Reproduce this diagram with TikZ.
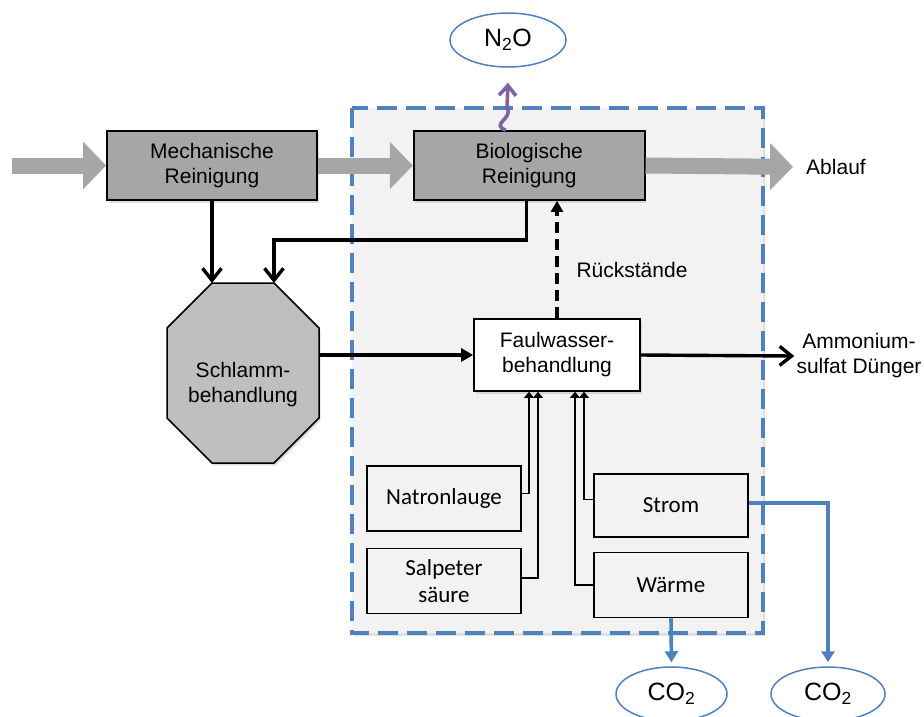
\documentclass[tikz,border=0pt]{standalone}
\usepackage{fontspec}
\setmainfont{Liberation Sans}
\newfontfamily\calibfont{Carlito}
\usepackage{tikz}
\usetikzlibrary{shapes.geometric,arrows.meta,positioning,calc,shadows}
\usepackage{xcolor}
\definecolor{boxgray}{RGB}{166,166,166}
\definecolor{octgray}{RGB}{191,191,191}
\definecolor{flowgray}{RGB}{166,166,166}
\definecolor{bglight}{RGB}{242,242,242}
\definecolor{ofblue}{RGB}{79,129,189}
\definecolor{ofpurple}{RGB}{128,100,162}
\newcommand{\boxfont}{\fontsize{21}{25}\selectfont}
\newcommand{\inputfont}{\calibfont\fontsize{23}{28}\selectfont}
\newcommand{\gasfont}{\fontsize{25}{28}\selectfont}

\begin{document}
\begin{tikzpicture}[x=1pt, y=-1pt,
    shade/.style={drop shadow={shadow xshift=1.5pt, shadow yshift=-2.5pt, opacity=0.25}},
    procstep/.style={rectangle, draw=black, line width=1.7pt, fill=boxgray,
        minimum width=210pt, minimum height=69pt, align=center,
        font=\boxfont, inner sep=2pt, shade},
    faulstep/.style={procstep, fill=white, minimum width=166pt, minimum height=72pt},
    inputstep/.style={rectangle, draw=black, line width=1.5pt, fill=bglight,
        minimum width=154pt, minimum height=65pt, align=center,
        font=\inputfont, inner sep=2pt},
    gas/.style={ellipse, draw=ofblue, line width=1.5pt, fill=white,
        minimum width=116pt, minimum height=54pt, inner sep=0pt, font=\gasfont},
    lbl/.style={font=\boxfont, align=center, inner sep=2pt},
    flowarr/.style={-{Triangle[length=23pt,width=46pt]}, line width=16pt, flowgray},
    blkarr/.style={-{Straight Barb[length=12pt,width=19pt]}, line width=3.4pt, black},
    blkfill/.style={-{Triangle[length=12pt,width=13pt]}, line width=3.2pt, black},
    dasharr/.style={-{Triangle[length=11pt,width=12pt]}, line width=3.4pt, black,
        dash pattern=on 11pt off 6pt},
    thinarr/.style={-{Triangle[length=6pt,width=10pt]}, line width=1.3pt, black},
    bluearr/.style={-{Triangle[length=11pt,width=13pt]}, line width=3.6pt, ofblue},
    wavyarr/.style={-{Straight Barb[length=10pt,width=17pt]}, line width=3.6pt, ofpurple}
]
    \clip (0,0) rectangle (924,716);

    % system boundary
    \draw[ofblue, fill=bglight, line width=3.4pt, dash pattern=on 20pt off 9pt,
        shade] (352,108) rectangle (763,633);

    % main line
    \node[procstep] (mech) at (212,165.5) {Mechanische\\Reinigung};
    \node[procstep, minimum width=231pt, right=95pt of mech] (bio) {Biologische\\Reinigung};
    \node[lbl] (ablauf) at (836,167) {Ablauf};
    \coordinate (inflow) at (12,165.5);

    % sludge treatment
    \coordinate (octc) at (243,373);
    \draw[fill=octgray, draw=black, line width=1.5pt, shade]
        (octc) ++(-31,-90) coordinate (octtl) -- ++(62,0) coordinate (octtr)
        -- ++(45,45) coordinate (octre) -- ++(0,90) -- ++(-45,45) -- ++(-62,0)
        -- ++(-45,-45) -- ++(0,-90) -- cycle;
    \node[lbl] (schlamm) at ([yshift=-12pt]octc) {Schlamm-\\behandlung};

    % reject water treatment
    \node[faulstep] (faul) at (557,355) {Faulwasser-\\behandlung};
    \node[lbl] (rueck) at (632,270) {Rückstände};
    \node[lbl] (ammon) at (859,356) {Ammonium-\\sulfat Dünger};

    \node[inputstep] (natron) at (444,498.5) {Natronlauge};
    \node[inputstep, below=16pt of natron] (salpeter) {Salpeter\\[-1pt]säure};
    \node[inputstep, minimum height=63pt] (strom) at (671,505.5) {Strom};
    \node[inputstep, below=14pt of strom] (waerme) {Wärme};

    \node[gas] (n2o) at (508,40) {N\textsubscript{2}O};
    \node[gas, minimum width=111pt] (co2a) at (671.5,694) {CO\textsubscript{2}};
    \node[gas, minimum width=114pt] (co2b) at (828,694) {CO\textsubscript{2}};

    % flows
    \draw[flowarr] (inflow) -- (mech.west);
    \draw[flowarr] (mech.east) -- (bio.west);
    \draw[flowarr, shorten >=11pt] (bio.east) -- (ablauf.west);

    \draw[blkarr] (mech.south) -- (mech.south |- octtl);
    \draw[blkarr] ([xshift=-2.5pt]bio.south) |- ([yshift=43pt]octtr) -- (octtr);
    \draw[blkfill] (faul.west -| octre) -- (faul.west);
    \draw[blkarr] (faul.east) -- (ammon.west);
    \draw[dasharr] (faul.north) -- (faul.north |- bio.south);

    \draw[thinarr] ([yshift=5pt]natron.east) -| ([xshift=-28pt]faul.south);
    \draw[thinarr] ([yshift=3pt]salpeter.east) -| ([xshift=-19pt]faul.south);
    \draw[thinarr] ([yshift=6pt]strom.west) -| ([xshift=27pt]faul.south);
    \draw[thinarr] (waerme.west) -| ([xshift=18pt]faul.south);

    % emissions
    \draw[bluearr, shorten >=4pt] (waerme.south) -- (co2a.north);
    \draw[bluearr, shorten >=4pt] ([yshift=2.5pt]strom.east) -| (co2b.north);
    \draw[wavyarr] ([xshift=-23.5pt]bio.north) .. controls (490,124) and (514,118)
        .. (507,108) -- ([yshift=-15pt]n2o.south);
\end{tikzpicture}
\end{document}
